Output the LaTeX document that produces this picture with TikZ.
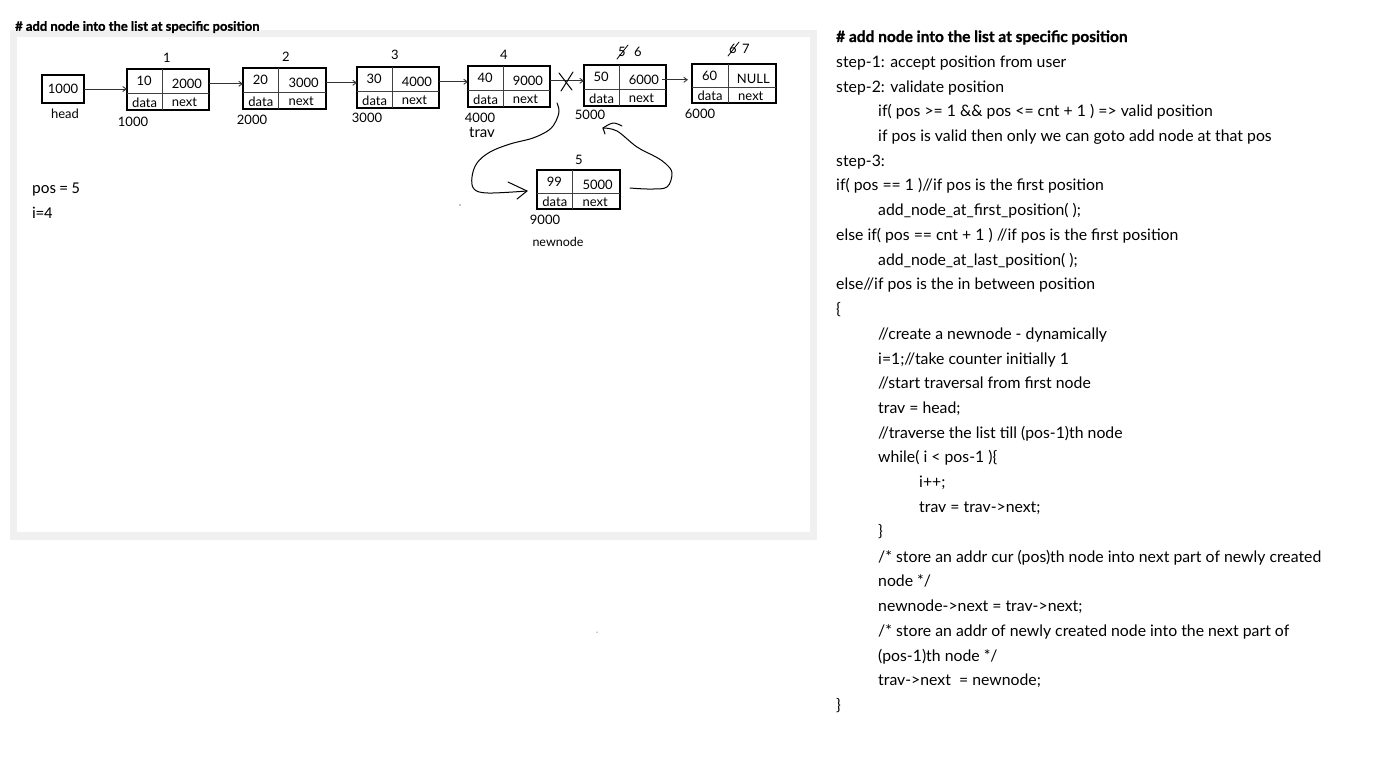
\documentclass[tikz,border=0pt]{standalone}
\usepackage{fontspec}
\setmainfont{Lato}
\newfontfamily\calfont{Carlito}
\newfontfamily\heavyfont{Lato}[BoldFeatures={FakeBold=1.2}]
\usetikzlibrary{arrows.meta,calc}

% one list node: name, x, y (top-left), width, height, data value, next value
\newcommand\llnode[7]{%
  \node[cellbox, minimum width=#4pt, minimum height=#5pt, anchor=north west] (#1) at (#2,#3) {};
  \draw[cellline] ({#2+0.43*#4},#3) -- ({#2+0.43*#4},{#3+#5});
  \draw[cellline] (#2,{#3+0.6*#5}) -- ({#2+#4},{#3+0.6*#5});
  \node[celltext] (#1-d) at ({#2+0.21*#4},{#3+0.3*#5}) {#6};
  \node[celltext] (#1-n) at ({#2+0.73*#4},{#3+0.37*#5}) {#7};
  \node[celltext] (#1-dl) at ({#2+0.215*#4},{#3+0.82*#5}) {data};
  \node[celltext] (#1-nl) at ({#2+0.70*#4},{#3+0.82*#5}) {next};
  \coordinate (#1-out) at ({#2+#4},{#3+0.36*#5});
}

\tikzset{
  cellbox/.style={draw=black, line width=1.4pt, inner sep=0pt, outer sep=0pt, fill=white},
  cellline/.style={draw=black!75, line width=0.9pt},
  celltext/.style={inner sep=0pt, font=\fontsize{13}{15}\selectfont},
  lbl/.style={inner sep=0pt, font=\fontsize{13}{15}\selectfont},
  link/.style={draw=black!80, line width=0.9pt, -{Straight Barb[length=3.5pt,width=5pt]}},
  hand/.style={draw=black, line width=1pt, line cap=round, line join=round},
  code/.style={inner sep=0pt, anchor=west, text height=11pt, text depth=3pt, font=\fontsize{15.8}{18}\selectfont},
}

\begin{document}
\begin{tikzpicture}[x=1pt,y=-1pt]
\useasboundingbox (0,0) rectangle (1374,756);
\fill[white] (0,0) rectangle (1374,756);

% framed drawing area
\fill[black!6] (10,30) rectangle (817,540);
\fill[white] (17,37) rectangle (810,532);
\node[inner sep=0pt, anchor=west, font=\heavyfont\bfseries\fontsize{13}{15}\selectfont] (ttl) at (15,27) {\# add node into the list at specific position};

% head pointer
\node[cellbox, minimum width=42pt, minimum height=28pt, anchor=north west] (head) at (42,75) {};
\node[lbl] (headv) at (head.center) {1000};
\node[lbl] (headl) at (65,114) {head};

% list nodes
\llnode{n1}{127}{69}{82}{41}{10}{2000}
\llnode{n2}{243}{68}{83}{41}{20}{3000}
\llnode{n3}{357}{67}{82}{41}{30}{4000}
\llnode{n4}{468}{66}{82}{41}{40}{9000}
\llnode{n5}{584}{65}{82}{41}{50}{6000}
\llnode{n6}{692}{64}{84}{39}{60}{NULL}
\llnode{nn}{537}{170}{83}{39}{99}{5000}

% positions
\node[lbl] (p1) at (167,58) {1};
\node[lbl] (p2) at (286,57) {2};
\node[lbl] (p3) at (395,55) {3};
\node[lbl] (p4) at (504,55) {4};
\node[lbl] (p5o) at (622,52) {5};
\node[lbl] (p5) at (638,52) {6};
\draw[hand, line width=0.8pt] (617,59) -- (628,45);
\node[lbl] (p6o) at (733,49) {6};
\node[lbl] (p6) at (746,49) {7};
\draw[hand, line width=0.8pt] (728,56) -- (739,42);
\node[lbl] (pn) at (579,160) {5};

% addresses
\node[lbl] (a1) at (133,122) {1000};
\node[lbl] (a2) at (252,120) {2000};
\node[lbl] (a3) at (367,118) {3000};
\node[lbl] (a4) at (480,118) {4000};
\node[inner sep=0pt, font=\fontsize{15}{17}\selectfont] (trav) at (482,133) {trav};
\node[lbl] (a5) at (590,115) {5000};
\node[lbl] (a6) at (700,114) {6000};
\node[lbl] (an) at (545,220) {9000};
\node[inner sep=0pt, font=\fontsize{12.5}{14}\selectfont] (nnl) at (558,242) {newnode};

% links
\draw[link] (head.east) -- (head.east -| n1.west);
\draw[link] (n1-out) -- (n1-out -| n2.west);
\draw[link] (n2-out) -- (n2-out -| n3.west);
\draw[link] (n3-out) -- (n3-out -| n4.west);
\draw[link] (n4-out) -- (n4-out -| n5.west);
\draw[link] ([xshift=-4pt]n5-out) -- ([xshift=-4pt]n5-out -| n6.west);

% broken link
\draw[hand] (559,73) -- (572,90);
\draw[hand] (573,72) -- (561,91);

% hand-drawn redirections
\coordinate (c1s) at (557,103);
\coordinate (c1e) at (527,191);
\draw[hand] plot[smooth, tension=0.6] coordinates {(c1s) (559,111) (556,121) (549,130) (533,138) (510,144) (490,152) (477,163) (472,177) (474,189) (488,193) (c1e)};
\draw[hand] (508,182) -- (c1e) -- (517,199);
\coordinate (c2s) at (630,188);
\coordinate (c2e) at (603,128);
\draw[hand] plot[smooth, tension=0.6] coordinates {(c2s) (650,189) (667,187) (672,173) (666,164) (656,157) (637,147) (617,131) (c2e)};
\draw[hand] plot[smooth, tension=0.6] coordinates {(622,126) (613,123) (c2e)};
\draw[hand] (c2e) -- (605,134);

% stray marks
\fill (460,205) circle (0.7);
\fill (597,632) circle (0.5);

% variables
\node[inner sep=0pt, anchor=west, font=\calfont\fontsize{16.5}{18}\selectfont] (vpos) at (32,190) {pos = 5};
\node[inner sep=0pt, anchor=west, font=\calfont\fontsize{16.5}{18}\selectfont] (vi) at (32,213) {i=4};

% algorithm text
\node[code, font=\heavyfont\bfseries\fontsize{15.5}{18}\selectfont] (t0) at (836,38) {\# add node into the list at specific position};
\node[code] (t1) at (836,63) {step-1: accept position from user};
\node[code] (t2) at (836,88) {step-2: validate position};
\node[code] (t3) at (878,112) {if( pos >= 1 \&\& pos <= cnt + 1 ) => valid position};
\node[code] (t4) at (878,137) {if pos is valid then only we can goto add node at that pos};
\node[code] (t5) at (836,162) {step-3:};
\node[code] (t6) at (836,186) {if( pos == 1 )//if pos is the first position};
\node[code] (t7) at (878,211) {add\_node\_at\_first\_position( );};
\node[code] (t8) at (836,236) {else if( pos == cnt + 1 ) //if pos is the first position};
\node[code] (t9) at (878,261) {add\_node\_at\_last\_position( );};
\node[code] (t10) at (836,285) {else//if pos is the in between position};
\node[code] (t11) at (836,310) {\{};
\node[code] (t12) at (878,335) {//create a newnode - dynamically};
\node[code] (t13) at (878,360) {i=1;//take counter initially 1};
\node[code] (t14) at (878,384) {//start traversal from first node};
\node[code] (t15) at (878,409) {trav = head;};
\node[code] (t16) at (878,434) {//traverse the list till (pos-1)th node};
\node[code] (t17) at (878,458) {while( i < pos-1 )\{};
\node[code] (t18) at (919,483) {i++;};
\node[code] (t19) at (919,508) {trav = trav->next;};
\node[code] (t20) at (878,532) {\}};
\node[code] (t21) at (878,558) {/* store an addr cur (pos)th node into next part of newly created};
\node[code] (t22) at (878,582) {node */};
\node[code] (t23) at (878,607) {newnode->next = trav->next;};
\node[code] (t24) at (878,632) {/* store an addr of newly created node into the next part of};
\node[code] (t25) at (878,657) {(pos-1)th node */};
\node[code] (t26) at (878,681) {trav->next\ \ = newnode;};
\node[code] (t27) at (836,706) {\}};
\end{tikzpicture}
\end{document}
